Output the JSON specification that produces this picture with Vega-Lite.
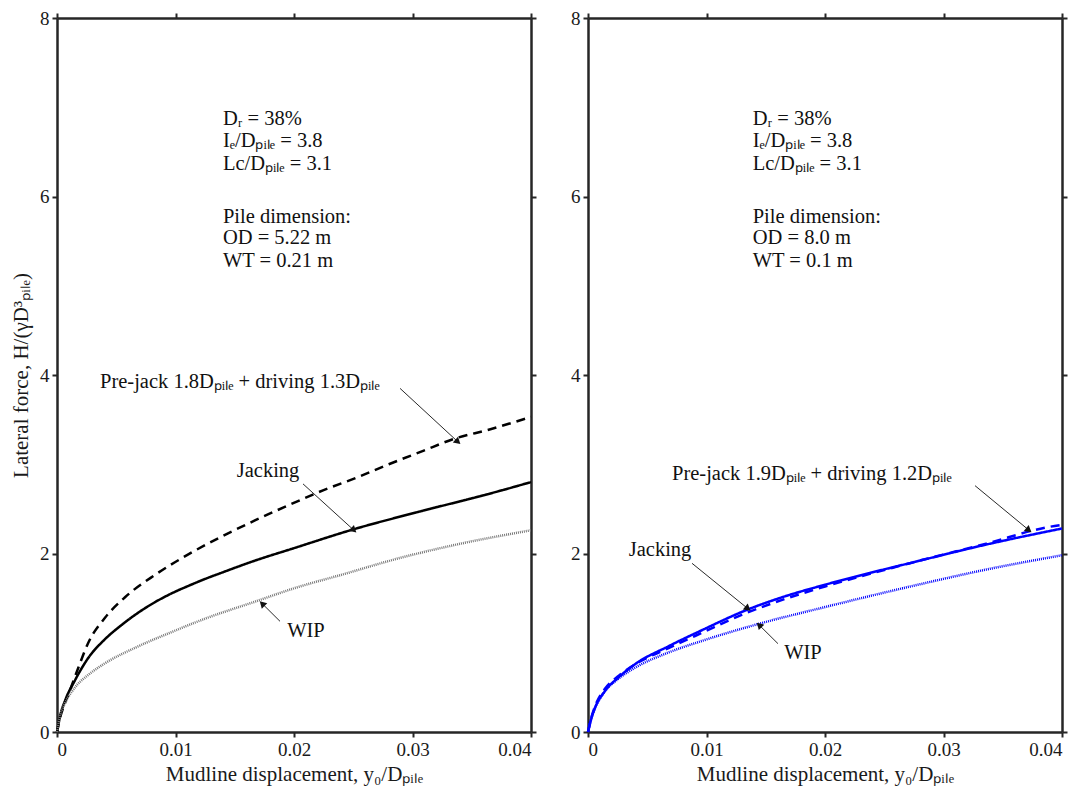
{
  "$schema": "https://vega.github.io/schema/vega-lite/v6.json",
  "padding": {"left": 10, "top": 9, "right": 5, "bottom": 5},
  "background": "white",
  "spacing": 57,
  "bounds": "flush",
  "config": {
    "view": {"stroke": null},
    "font": "Liberation Serif",
    "axis": {
      "grid": false,
      "domainColor": "#262626",
      "domainWidth": 2.5,
      "tickColor": "#262626",
      "tickWidth": 2,
      "tickSize": 5,
      "labelFont": "Liberation Serif",
      "labelFontSize": 19,
      "labelColor": "#1a1a1a",
      "labelPadding": 3,
      "titleFont": "Liberation Serif",
      "titleFontSize": 21,
      "titleFontWeight": "normal",
      "titleColor": "#1a1a1a"
    },
    "text": {"font": "Liberation Serif", "fontSize": 20.5, "color": "#111"}
  },
  "datasets": {
    "curves": [
      {"p": "L", "s": "driving", "x": 0, "y": 0},
      {"p": "L", "s": "driving", "x": 0.0003, "y": 0.18},
      {"p": "L", "s": "driving", "x": 0.0006, "y": 0.30},
      {"p": "L", "s": "driving", "x": 0.00096, "y": 0.42},
      {"p": "L", "s": "driving", "x": 0.0018, "y": 0.72},
      {"p": "L", "s": "driving", "x": 0.00264, "y": 1.0},
      {"p": "L", "s": "driving", "x": 0.00405, "y": 1.28},
      {"p": "L", "s": "driving", "x": 0.00574, "y": 1.51},
      {"p": "L", "s": "driving", "x": 0.00827, "y": 1.76},
      {"p": "L", "s": "driving", "x": 0.01108, "y": 1.99},
      {"p": "L", "s": "driving", "x": 0.0139, "y": 2.19},
      {"p": "L", "s": "driving", "x": 0.0167, "y": 2.37},
      {"p": "L", "s": "driving", "x": 0.01952, "y": 2.54},
      {"p": "L", "s": "driving", "x": 0.0225, "y": 2.71},
      {"p": "L", "s": "driving", "x": 0.0253, "y": 2.85},
      {"p": "L", "s": "driving", "x": 0.028, "y": 3.0},
      {"p": "L", "s": "driving", "x": 0.0309, "y": 3.15},
      {"p": "L", "s": "driving", "x": 0.0334, "y": 3.28},
      {"p": "L", "s": "driving", "x": 0.0365, "y": 3.39},
      {"p": "L", "s": "driving", "x": 0.04, "y": 3.53},
      {"p": "L", "s": "jacking", "x": 0, "y": 0},
      {"p": "L", "s": "jacking", "x": 0.0003, "y": 0.2},
      {"p": "L", "s": "jacking", "x": 0.000675, "y": 0.35},
      {"p": "L", "s": "jacking", "x": 0.00152, "y": 0.58},
      {"p": "L", "s": "jacking", "x": 0.00264, "y": 0.83},
      {"p": "L", "s": "jacking", "x": 0.00405, "y": 1.04},
      {"p": "L", "s": "jacking", "x": 0.00546, "y": 1.2},
      {"p": "L", "s": "jacking", "x": 0.007, "y": 1.35},
      {"p": "L", "s": "jacking", "x": 0.00827, "y": 1.455},
      {"p": "L", "s": "jacking", "x": 0.0097, "y": 1.555},
      {"p": "L", "s": "jacking", "x": 0.01105, "y": 1.635},
      {"p": "L", "s": "jacking", "x": 0.0125, "y": 1.715},
      {"p": "L", "s": "jacking", "x": 0.0139, "y": 1.785},
      {"p": "L", "s": "jacking", "x": 0.0167, "y": 1.92},
      {"p": "L", "s": "jacking", "x": 0.02, "y": 2.06},
      {"p": "L", "s": "jacking", "x": 0.025, "y": 2.27},
      {"p": "L", "s": "jacking", "x": 0.0309, "y": 2.48},
      {"p": "L", "s": "jacking", "x": 0.0365, "y": 2.67},
      {"p": "L", "s": "jacking", "x": 0.04, "y": 2.80},
      {"p": "L", "s": "wip", "x": 0, "y": 0},
      {"p": "L", "s": "wip", "x": 0.0003, "y": 0.2},
      {"p": "L", "s": "wip", "x": 0.0007, "y": 0.33},
      {"p": "L", "s": "wip", "x": 0.00152, "y": 0.50},
      {"p": "L", "s": "wip", "x": 0.00264, "y": 0.64},
      {"p": "L", "s": "wip", "x": 0.00405, "y": 0.77},
      {"p": "L", "s": "wip", "x": 0.00686, "y": 0.96},
      {"p": "L", "s": "wip", "x": 0.00968, "y": 1.12},
      {"p": "L", "s": "wip", "x": 0.0125, "y": 1.27},
      {"p": "L", "s": "wip", "x": 0.0167, "y": 1.46},
      {"p": "L", "s": "wip", "x": 0.02, "y": 1.61},
      {"p": "L", "s": "wip", "x": 0.0245, "y": 1.78},
      {"p": "L", "s": "wip", "x": 0.0281, "y": 1.92},
      {"p": "L", "s": "wip", "x": 0.0337, "y": 2.1},
      {"p": "L", "s": "wip", "x": 0.04, "y": 2.26},
      {"p": "R", "s": "jacking", "x": 0, "y": 0},
      {"p": "R", "s": "jacking", "x": 0.0003, "y": 0.16},
      {"p": "R", "s": "jacking", "x": 0.00059, "y": 0.27},
      {"p": "R", "s": "jacking", "x": 0.00143, "y": 0.46},
      {"p": "R", "s": "jacking", "x": 0.00256, "y": 0.61},
      {"p": "R", "s": "jacking", "x": 0.00397, "y": 0.76},
      {"p": "R", "s": "jacking", "x": 0.00678, "y": 0.96},
      {"p": "R", "s": "jacking", "x": 0.0096, "y": 1.14},
      {"p": "R", "s": "jacking", "x": 0.01325, "y": 1.36},
      {"p": "R", "s": "jacking", "x": 0.01662, "y": 1.52},
      {"p": "R", "s": "jacking", "x": 0.02, "y": 1.65},
      {"p": "R", "s": "jacking", "x": 0.028, "y": 1.92},
      {"p": "R", "s": "jacking", "x": 0.0336, "y": 2.10},
      {"p": "R", "s": "jacking", "x": 0.04, "y": 2.28},
      {"p": "R", "s": "driving", "x": 0, "y": 0},
      {"p": "R", "s": "driving", "x": 0.0003, "y": 0.17},
      {"p": "R", "s": "driving", "x": 0.0006, "y": 0.29},
      {"p": "R", "s": "driving", "x": 0.0014, "y": 0.48},
      {"p": "R", "s": "driving", "x": 0.0026, "y": 0.63},
      {"p": "R", "s": "driving", "x": 0.004, "y": 0.76},
      {"p": "R", "s": "driving", "x": 0.0068, "y": 0.94},
      {"p": "R", "s": "driving", "x": 0.0096, "y": 1.11},
      {"p": "R", "s": "driving", "x": 0.0133, "y": 1.33},
      {"p": "R", "s": "driving", "x": 0.0166, "y": 1.49},
      {"p": "R", "s": "driving", "x": 0.02, "y": 1.63},
      {"p": "R", "s": "driving", "x": 0.028, "y": 1.92},
      {"p": "R", "s": "driving", "x": 0.0336, "y": 2.11},
      {"p": "R", "s": "driving", "x": 0.039, "y": 2.30},
      {"p": "R", "s": "driving", "x": 0.04, "y": 2.32},
      {"p": "R", "s": "wip", "x": 0, "y": 0},
      {"p": "R", "s": "wip", "x": 0.0003, "y": 0.16},
      {"p": "R", "s": "wip", "x": 0.0006, "y": 0.27},
      {"p": "R", "s": "wip", "x": 0.0014, "y": 0.45},
      {"p": "R", "s": "wip", "x": 0.0026, "y": 0.60},
      {"p": "R", "s": "wip", "x": 0.00397, "y": 0.72},
      {"p": "R", "s": "wip", "x": 0.00678, "y": 0.89},
      {"p": "R", "s": "wip", "x": 0.0096, "y": 1.02},
      {"p": "R", "s": "wip", "x": 0.01437, "y": 1.21},
      {"p": "R", "s": "wip", "x": 0.02, "y": 1.40},
      {"p": "R", "s": "wip", "x": 0.028, "y": 1.655},
      {"p": "R", "s": "wip", "x": 0.0336, "y": 1.82},
      {"p": "R", "s": "wip", "x": 0.04, "y": 1.98}
    ],
    "notes": [
      {"p": "L", "a": "left", "x": 0.0140, "y": 6.87, "t": "Dᵣ = 38%"},
      {"p": "L", "a": "left", "x": 0.0140, "y": 6.62, "t": "Iₑ/Dₚᵢₗₑ = 3.8"},
      {"p": "L", "a": "left", "x": 0.0140, "y": 6.36, "t": "Lc/Dₚᵢₗₑ = 3.1"},
      {"p": "L", "a": "left", "x": 0.0140, "y": 5.77, "t": "Pile dimension:"},
      {"p": "L", "a": "left", "x": 0.0140, "y": 5.54, "t": "OD = 5.22 m"},
      {"p": "L", "a": "left", "x": 0.0140, "y": 5.28, "t": "WT = 0.21 m"},
      {"p": "L", "a": "left", "x": 0.00363, "y": 3.92, "t": "Pre-jack 1.8Dₚᵢₗₑ + driving 1.3Dₚᵢₗₑ"},
      {"p": "L", "a": "center", "x": 0.01781, "y": 2.92, "t": "Jacking"},
      {"p": "L", "a": "center", "x": 0.02101, "y": 1.13, "t": "WIP"},
      {"p": "R", "a": "left", "x": 0.0139, "y": 6.87, "t": "Dᵣ = 38%"},
      {"p": "R", "a": "left", "x": 0.0139, "y": 6.62, "t": "Iₑ/Dₚᵢₗₑ = 3.8"},
      {"p": "R", "a": "left", "x": 0.0139, "y": 6.36, "t": "Lc/Dₚᵢₗₑ = 3.1"},
      {"p": "R", "a": "left", "x": 0.0139, "y": 5.77, "t": "Pile dimension:"},
      {"p": "R", "a": "left", "x": 0.0139, "y": 5.54, "t": "OD = 8.0 m"},
      {"p": "R", "a": "left", "x": 0.0139, "y": 5.28, "t": "WT = 0.1 m"},
      {"p": "R", "a": "left", "x": 0.00709, "y": 2.89, "t": "Pre-jack 1.9Dₚᵢₗₑ + driving 1.2Dₚᵢₗₑ"},
      {"p": "R", "a": "center", "x": 0.00608, "y": 2.04, "t": "Jacking"},
      {"p": "R", "a": "center", "x": 0.01814, "y": 0.885, "t": "WIP"}
    ],
    "arrows": [
      {"p": "L", "k": "driving", "x": 0.02895, "y": 3.85, "x2": 0.03376, "y2": 3.26},
      {"p": "L", "k": "jacking", "x": 0.02076, "y": 2.78, "x2": 0.02498, "y2": 2.27},
      {"p": "L", "k": "wip", "x": 0.01882, "y": 1.24, "x2": 0.01738, "y2": 1.43},
      {"p": "R", "k": "driving", "x": 0.03266, "y": 2.76, "x2": 0.03713, "y2": 2.27},
      {"p": "R", "k": "jacking", "x": 0.00878, "y": 1.89, "x2": 0.01342, "y2": 1.39},
      {"p": "R", "k": "wip", "x": 0.01603, "y": 0.99, "x2": 0.01451, "y2": 1.19}
    ]
  },
  "hconcat": [
    {
      "width": 474,
      "height": 714,
      "layer": [
        {
          "data": {"name": "curves"},
          "transform": [{"filter": "datum.p === 'L'"}],
          "mark": {"type": "line", "strokeCap": "butt", "interpolate": "monotone"},
          "encoding": {
            "x": {"field": "x", "type": "quantitative", "scale": {"domain": [0, 0.04], "nice": false},
                  "axis": {"orient": "bottom", "values": [0, 0.01, 0.02, 0.03, 0.04], "format": "~g", "title": "Mudline displacement, y₀/Dₚᵢₗₑ", "titlePadding": 4}},
            "y": {"field": "y", "type": "quantitative", "scale": {"domain": [0, 8], "nice": false},
                  "axis": {"orient": "left", "values": [0, 2, 4, 6, 8], "format": "d", "title": "Lateral force, H/(γD³ₚᵢₗₑ)", "titlePadding": 8}},
            "color": {"field": "s", "type": "nominal", "scale": {"domain": ["jacking", "driving", "wip"], "range": ["#000000", "#000000", "#777777"]}, "legend": null},
            "strokeDash": {"field": "s", "type": "nominal", "scale": {"domain": ["jacking", "driving", "wip"], "range": [[1, 0], [9, 6], [1, 1]]}, "legend": null},
            "strokeWidth": {"field": "s", "type": "nominal", "scale": {"domain": ["jacking", "driving", "wip"], "range": [2.5, 2.5, 1]}, "legend": null}
          }
        },
        {
          "data": {"name": "curves"},
          "transform": [{"filter": "datum.p === 'L'"}],
          "mark": {"type": "line", "opacity": 0},
          "encoding": {
            "x": {"field": "x", "type": "quantitative", "axis": {"orient": "top", "values": [0, 0.01, 0.02, 0.03, 0.04], "labels": false, "title": null}},
            "y": {"field": "y", "type": "quantitative", "axis": {"orient": "right", "values": [0, 2, 4, 6, 8], "labels": false, "title": null}},
            "detail": {"field": "s"}
          }
        },
        {
          "data": {"name": "arrows"},
          "transform": [{"filter": "datum.p === 'L'"}],
          "mark": {"type": "rule", "color": "#111", "strokeWidth": 0.9},
          "encoding": {
            "x": {"field": "x", "type": "quantitative", "axis": null},
            "y": {"field": "y", "type": "quantitative", "axis": null},
            "x2": {"field": "x2"},
            "y2": {"field": "y2"}
          }
        },
        {
          "data": {"name": "arrows"},
          "transform": [{"filter": "datum.p === 'L' && datum.k !== 'wip'"}],
          "mark": {"type": "point", "shape": "triangle", "filled": true, "color": "#111", "size": 60, "angle": 132, "opacity": 1},
          "encoding": {
            "x": {"field": "x2", "type": "quantitative", "axis": null},
            "y": {"field": "y2", "type": "quantitative", "axis": null}
          }
        },
        {
          "data": {"name": "arrows"},
          "transform": [{"filter": "datum.p === 'L' && datum.k === 'wip'"}],
          "mark": {"type": "point", "shape": "triangle", "filled": true, "color": "#111", "size": 60, "angle": 315, "opacity": 1},
          "encoding": {
            "x": {"field": "x2", "type": "quantitative", "axis": null},
            "y": {"field": "y2", "type": "quantitative", "axis": null}
          }
        },
        {
          "data": {"name": "notes"},
          "transform": [{"filter": "datum.p === 'L' && datum.a === 'left'"}],
          "mark": {"type": "text", "align": "left", "baseline": "middle"},
          "encoding": {
            "x": {"field": "x", "type": "quantitative", "axis": null},
            "y": {"field": "y", "type": "quantitative", "axis": null},
            "text": {"field": "t"}
          }
        },
        {
          "data": {"name": "notes"},
          "transform": [{"filter": "datum.p === 'L' && datum.a === 'center'"}],
          "mark": {"type": "text", "align": "center", "baseline": "middle"},
          "encoding": {
            "x": {"field": "x", "type": "quantitative", "axis": null},
            "y": {"field": "y", "type": "quantitative", "axis": null},
            "text": {"field": "t"}
          }
        }
      ],
      "resolve": {"axis": {"x": "independent", "y": "independent"}}
    },
    {
      "width": 474,
      "height": 714,
      "layer": [
        {
          "data": {"name": "curves"},
          "transform": [{"filter": "datum.p === 'R'"}],
          "mark": {"type": "line", "strokeCap": "butt", "interpolate": "monotone", "color": "#0000ff"},
          "encoding": {
            "x": {"field": "x", "type": "quantitative", "scale": {"domain": [0, 0.04], "nice": false},
                  "axis": {"orient": "bottom", "values": [0, 0.01, 0.02, 0.03, 0.04], "format": "~g", "title": "Mudline displacement, y₀/Dₚᵢₗₑ", "titlePadding": 4}},
            "y": {"field": "y", "type": "quantitative", "scale": {"domain": [0, 8], "nice": false},
                  "axis": {"orient": "left", "values": [0, 2, 4, 6, 8], "format": "d", "title": null}},
            "strokeDash": {"field": "s", "type": "nominal", "scale": {"domain": ["jacking", "driving", "wip"], "range": [[1, 0], [9, 6], [1, 1]]}, "legend": null},
            "strokeWidth": {"field": "s", "type": "nominal", "scale": {"domain": ["jacking", "driving", "wip"], "range": [2.5, 2.5, 1]}, "legend": null}
          }
        },
        {
          "data": {"name": "curves"},
          "transform": [{"filter": "datum.p === 'R'"}],
          "mark": {"type": "line", "opacity": 0},
          "encoding": {
            "x": {"field": "x", "type": "quantitative", "axis": {"orient": "top", "values": [0, 0.01, 0.02, 0.03, 0.04], "labels": false, "title": null}},
            "y": {"field": "y", "type": "quantitative", "axis": {"orient": "right", "values": [0, 2, 4, 6, 8], "labels": false, "title": null}},
            "detail": {"field": "s"}
          }
        },
        {
          "data": {"name": "arrows"},
          "transform": [{"filter": "datum.p === 'R'"}],
          "mark": {"type": "rule", "color": "#111", "strokeWidth": 0.9},
          "encoding": {
            "x": {"field": "x", "type": "quantitative", "axis": null},
            "y": {"field": "y", "type": "quantitative", "axis": null},
            "x2": {"field": "x2"},
            "y2": {"field": "y2"}
          }
        },
        {
          "data": {"name": "arrows"},
          "transform": [{"filter": "datum.p === 'R' && datum.k !== 'wip'"}],
          "mark": {"type": "point", "shape": "triangle", "filled": true, "color": "#111", "size": 60, "angle": 129, "opacity": 1},
          "encoding": {
            "x": {"field": "x2", "type": "quantitative", "axis": null},
            "y": {"field": "y2", "type": "quantitative", "axis": null}
          }
        },
        {
          "data": {"name": "arrows"},
          "transform": [{"filter": "datum.p === 'R' && datum.k === 'wip'"}],
          "mark": {"type": "point", "shape": "triangle", "filled": true, "color": "#111", "size": 60, "angle": 315, "opacity": 1},
          "encoding": {
            "x": {"field": "x2", "type": "quantitative", "axis": null},
            "y": {"field": "y2", "type": "quantitative", "axis": null}
          }
        },
        {
          "data": {"name": "notes"},
          "transform": [{"filter": "datum.p === 'R' && datum.a === 'left'"}],
          "mark": {"type": "text", "align": "left", "baseline": "middle"},
          "encoding": {
            "x": {"field": "x", "type": "quantitative", "axis": null},
            "y": {"field": "y", "type": "quantitative", "axis": null},
            "text": {"field": "t"}
          }
        },
        {
          "data": {"name": "notes"},
          "transform": [{"filter": "datum.p === 'R' && datum.a === 'center'"}],
          "mark": {"type": "text", "align": "center", "baseline": "middle"},
          "encoding": {
            "x": {"field": "x", "type": "quantitative", "axis": null},
            "y": {"field": "y", "type": "quantitative", "axis": null},
            "text": {"field": "t"}
          }
        }
      ],
      "resolve": {"axis": {"x": "independent", "y": "independent"}}
    }
  ]
}
